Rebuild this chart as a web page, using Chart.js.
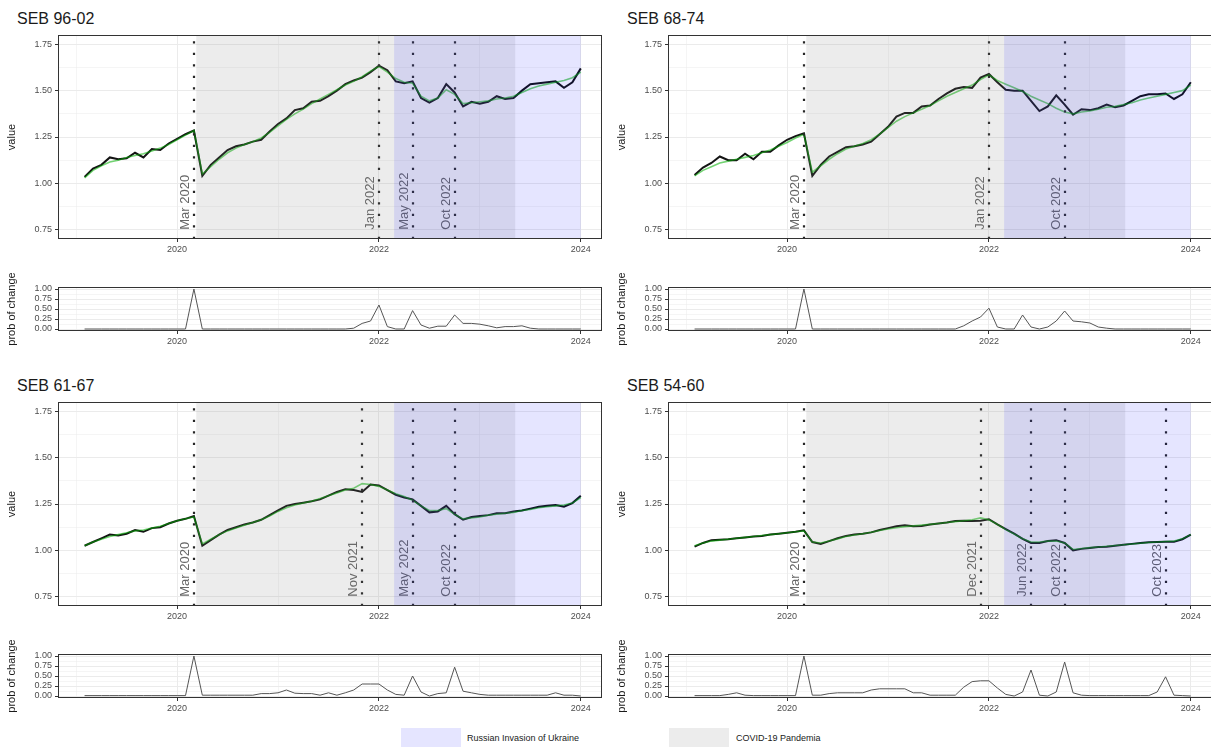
<!DOCTYPE html>
<html>
<head>
<meta charset="utf-8">
<title>SEB change points</title>
<script src="https://cdn.jsdelivr.net/npm/chart.js@4.4.1/dist/chart.umd.min.js"></script>
<style>
  html, body { margin: 0; padding: 0; background: #fff; }
  #page { position: relative; width: 1211px; height: 747px; overflow: hidden; font-family: "Liberation Sans", Arial, sans-serif; }
  #page canvas { position: absolute; }
  .title { position: absolute; font-size: 16px; color: #1a1a1a; line-height: 1; white-space: nowrap; }
  .key { position: absolute; width: 60px; height: 22px; }
  .keytext { position: absolute; font-size: 9px; color: #1a1a1a; line-height: 1; white-space: nowrap; }
</style>
</head>
<body>
<div id="page">
  <div class="title" style="left:17px; top:11px;">SEB 96-02</div>
  <div class="title" style="left:627px; top:11px;">SEB 68-74</div>
  <div class="title" style="left:17px; top:378px;">SEB 61-67</div>
  <div class="title" style="left:627px; top:378px;">SEB 54-60</div>

  <canvas id="main1" width="612" height="235" style="left:0px; top:25px;"></canvas>
  <canvas id="prob1" width="612" height="90" style="left:0px; top:262px;"></canvas>
  <canvas id="main2" width="612" height="235" style="left:610px; top:25px;"></canvas>
  <canvas id="prob2" width="612" height="90" style="left:610px; top:262px;"></canvas>
  <canvas id="main3" width="612" height="235" style="left:0px; top:392px;"></canvas>
  <canvas id="prob3" width="612" height="90" style="left:0px; top:629px;"></canvas>
  <canvas id="main4" width="612" height="235" style="left:610px; top:392px;"></canvas>
  <canvas id="prob4" width="612" height="90" style="left:610px; top:629px;"></canvas>

  <div class="key" style="left:401px; top:728px; background:rgba(0,0,255,0.1);"></div>
  <div class="keytext" style="left:467px; top:734px;">Russian Invasion of Ukraine</div>
  <div class="key" style="left:669px; top:728px; background:rgba(128,128,128,0.15);"></div>
  <div class="keytext" style="left:736px; top:734px;">COVID-19 Pandemia</div>
</div>

<script>
// monthly observations, Feb 2019 .. Jan 2024
var months = [
  '2019-02','2019-03','2019-04','2019-05','2019-06','2019-07','2019-08','2019-09','2019-10','2019-11','2019-12',
  '2020-01','2020-02','2020-03','2020-04','2020-05','2020-06','2020-07','2020-08','2020-09','2020-10','2020-11','2020-12',
  '2021-01','2021-02','2021-03','2021-04','2021-05','2021-06','2021-07','2021-08','2021-09','2021-10','2021-11','2021-12',
  '2022-01','2022-02','2022-03','2022-04','2022-05','2022-06','2022-07','2022-08','2022-09','2022-10','2022-11','2022-12',
  '2023-01','2023-02','2023-03','2023-04','2023-05','2023-06','2023-07','2023-08','2023-09','2023-10','2023-11','2023-12',
  '2024-01'
];

// SEB 96-02
var value9602 = [1.035,1.08,1.10,1.14,1.13,1.135,1.165,1.14,1.185,1.18,1.215,1.24,1.265,1.285,
  1.04,1.10,1.14,1.18,1.20,1.21,1.225,1.235,1.28,1.32,1.35,1.395,1.405,1.44,1.445,1.47,1.50,1.535,1.555,1.57,1.60,1.635,
  1.61,1.55,1.54,1.55,1.46,1.435,1.46,1.535,1.49,
  1.415,1.44,1.43,1.44,1.47,1.455,1.46,1.50,1.535,1.54,1.545,1.55,1.515,1.545,1.62];
var fit9602 = [1.03,1.07,1.095,1.115,1.125,1.14,1.15,1.16,1.175,1.19,1.21,1.235,1.26,1.285,
  1.05,1.09,1.13,1.165,1.19,1.21,1.225,1.245,1.275,1.31,1.345,1.375,1.40,1.43,1.455,1.48,1.505,1.53,1.55,1.575,1.605,1.63,
  1.60,1.565,1.545,1.54,1.47,1.445,1.46,1.505,1.48,
  1.43,1.435,1.44,1.445,1.455,1.46,1.47,1.49,1.51,1.525,1.535,1.545,1.555,1.57,1.60];
var prob9602 = [0,0,0,0,0,0,0,0,0,0,0,0,0,1.0,
  0,0,0,0,0,0,0,0,0,0,0,0,0,0,0,0,0,0,
  0.02,0.14,0.2,0.6,0.06,0,0,0.46,0.1,0.02,0.07,0.07,0.35,0.14,0.14,0.12,0.08,0.03,0.06,0.06,0.08,0.02,
  0,0,0,0,0,0];
var changes9602 = ['Mar 2020', 'Jan 2022', 'May 2022', 'Oct 2022'];

// SEB 68-74
var value6874 = [1.045,1.085,1.11,1.145,1.125,1.125,1.16,1.13,1.17,1.17,1.205,1.235,1.255,1.27,
  1.04,1.10,1.145,1.17,1.195,1.20,1.21,1.225,1.265,1.305,1.36,1.38,1.38,1.415,1.42,1.455,1.485,1.51,1.52,1.515,1.57,1.59,
  1.545,1.505,1.50,1.50,1.445,1.39,1.415,1.475,1.425,
  1.37,1.40,1.395,1.405,1.425,1.41,1.42,1.445,1.47,1.48,1.48,1.485,1.455,1.48,1.545];
var fit6874 = [1.04,1.07,1.09,1.11,1.12,1.13,1.14,1.15,1.165,1.18,1.20,1.22,1.245,1.265,
  1.06,1.095,1.13,1.16,1.185,1.20,1.215,1.235,1.265,1.30,1.335,1.36,1.38,1.40,1.42,1.445,1.47,1.49,1.51,1.53,1.56,1.585,
  1.555,1.535,1.515,1.495,1.47,1.45,1.43,1.405,1.385,
  1.375,1.385,1.39,1.40,1.41,1.415,1.425,1.435,1.45,1.46,1.47,1.48,1.49,1.50,1.53];
var prob6874 = [0,0,0,0,0,0,0,0,0,0,0,0,0,1.0,
  0,0,0,0,0,0,0,0,0,0,0,0,0,0,0,0,0,0,
  0.08,0.2,0.3,0.52,0.05,0,0,0.35,0.05,0,0.05,0.2,0.45,0.2,0.18,0.15,0.05,0.02,
  0,0,0,0,0,0,0,0,0,0];
var changes6874 = ['Mar 2020', 'Jan 2022', 'Oct 2022'];

// SEB 61-67
var value6167 = [1.025,1.045,1.065,1.085,1.08,1.09,1.11,1.10,1.12,1.125,1.145,1.16,1.17,1.185,
  1.025,1.055,1.085,1.11,1.125,1.14,1.15,1.165,1.19,1.215,1.24,1.25,1.257,1.265,1.275,1.295,1.315,1.33,1.325,1.315,1.355,1.35,
  1.325,1.30,1.285,1.275,1.24,1.205,1.21,1.24,1.195,
  1.165,1.18,1.185,1.19,1.20,1.20,1.21,1.215,1.225,1.235,1.24,1.245,1.235,1.255,1.295];
var fit6167 = [1.025,1.045,1.06,1.075,1.085,1.095,1.105,1.11,1.12,1.13,1.145,1.16,1.17,1.18,
  1.035,1.06,1.085,1.105,1.12,1.135,1.15,1.165,1.185,1.21,1.23,1.245,1.255,1.265,1.28,1.295,1.31,1.325,1.335,1.36,1.355,1.345,
  1.325,1.305,1.29,1.27,1.24,1.215,1.215,1.225,1.195,
  1.17,1.175,1.18,1.19,1.195,1.20,1.205,1.215,1.22,1.23,1.235,1.24,1.245,1.255,1.285];
var prob6167 = [0.01,0.01,0.01,0.01,0.01,0.01,0.01,0.01,0.01,0.01,0.01,0.01,0.01,1.0,
  0.02,0.02,0.02,0.02,0.02,0.02,0.02,
  0.06,0.06,0.08,0.15,0.07,0.06,0.06,0.02,0.08,0.02,0.08,0.15,0.3,0.3,0.3,0.15,0.04,0.02,0.5,0.1,0,0.06,0.08,0.72,0.12,0.08,0.04,
  0.02,0.02,0.02,0.02,0.02,0.02,0.02,0.02,
  0.08,0.02,0.02,0];
var changes6167 = ['Mar 2020', 'Nov 2021', 'May 2022', 'Oct 2022'];

// SEB 54-60
var value5460 = [1.02,1.04,1.055,1.057,1.06,1.065,1.07,1.075,1.078,1.085,1.09,1.095,1.10,1.108,
  1.045,1.035,1.05,1.065,1.078,1.085,1.09,1.097,1.11,1.12,1.13,1.135,1.13,1.132,1.14,1.145,1.15,1.158,1.16,1.158,1.16,1.168,
  1.14,1.115,1.09,1.062,1.04,1.04,1.05,1.055,1.04,
  1.00,1.008,1.013,1.018,1.02,1.025,1.03,1.035,1.04,1.044,1.045,1.046,1.046,1.06,1.085];
var fit5460 = [1.025,1.04,1.05,1.055,1.06,1.065,1.07,1.075,1.08,1.085,1.09,1.095,1.10,1.105,
  1.045,1.04,1.05,1.062,1.075,1.083,1.09,1.098,1.107,1.115,1.122,1.128,1.132,1.136,1.14,1.145,1.15,1.155,1.16,1.165,1.175,1.165,
  1.14,1.112,1.088,1.063,1.045,1.045,1.05,1.05,1.04,
  1.005,1.01,1.015,1.018,1.022,1.026,1.03,1.034,1.038,1.042,1.045,1.048,1.05,1.062,1.085];
var prob5460 = [0.01,0.01,0.01,0.01,0.04,0.08,0.02,0.01,0.01,0.01,0.01,0.01,0.01,1.0,
  0.02,0.02,0.06,0.08,0.08,0.08,0.08,0.15,0.18,0.18,0.18,0.18,0.08,0.08,0.02,0.02,0.02,0.02,
  0.22,0.36,0.38,0.38,0.2,0.04,0,0.1,0.65,0.02,0,0.1,0.85,0.08,0.02,
  0.01,0.01,0.01,0.01,0.01,0.01,0.01,0.01,
  0.1,0.48,0.02,0.01,0];
var changes5460 = ['Mar 2020', 'Dec 2021', 'Jun 2022', 'Oct 2022', 'Oct 2023'];

// shaded periods (decimal years)
var covidPeriod = [2020.19, 2023.35];
var invasionPeriod = [2022.15, 2024.0];

// axes
var xRange = [2018.82, 2024.21];
var xTicks = [2019, 2020, 2021, 2022, 2023, 2024];
var xTickLabels = ['', '2020', '', '2022', '', '2024'];
var valueRange = [0.70, 1.80];
var valueTicks = [0.75, 0.875, 1.0, 1.125, 1.25, 1.375, 1.5, 1.625, 1.75];
var valueTickLabels = ['0.75', '', '1.00', '', '1.25', '', '1.50', '', '1.75'];
var probRange = [-0.05, 1.05];
var probTicks = [0, 0.125, 0.25, 0.375, 0.5, 0.625, 0.75, 0.875, 1.0];
var probTickLabels = ['0.00', '', '0.25', '', '0.50', '', '0.75', '', '1.00'];

var monthNames = ['Jan','Feb','Mar','Apr','May','Jun','Jul','Aug','Sep','Oct','Nov','Dec'];
var FONT = '"Liberation Sans", Arial, sans-serif';

Chart.defaults.font.family = FONT;
Chart.defaults.color = '#4d4d4d';

function monthToYear(m) {
  var parts = m.split('-');
  return parseInt(parts[0], 10) + (parseInt(parts[1], 10) - 1) / 12;
}

function labelToYear(label) {
  var parts = label.split(' ');
  return parseInt(parts[1], 10) + monthNames.indexOf(parts[0]) / 12;
}

function toPoints(values) {
  var pts = [];
  for (var i = 0; i < months.length; i++) {
    pts.push({ x: monthToYear(months[i]), y: values[i] });
  }
  return pts;
}

function isMajor(list, labels, value) {
  var idx = list.indexOf(value);
  return idx >= 0 && labels[idx] !== '';
}

function xScale() {
  return {
    type: 'linear',
    min: xRange[0],
    max: xRange[1],
    afterBuildTicks: function(scale) {
      scale.ticks = xTicks.map(function(v) { return { value: v }; });
    },
    afterFit: function(scale) { scale.height = 21; },
    ticks: {
      autoSkip: false,
      maxRotation: 0,
      padding: 2,
      font: { size: 9 },
      color: '#4d4d4d',
      callback: function(value, index) { return xTickLabels[index]; }
    },
    grid: {
      color: '#ebebeb',
      lineWidth: function(c) { return isMajor(xTicks, xTickLabels, c.tick ? c.tick.value : null) ? 1 : 0.5; },
      tickLength: 3,
      tickWidth: 1,
      tickColor: function(c) { return isMajor(xTicks, xTickLabels, c.tick ? c.tick.value : null) ? '#333333' : 'rgba(0,0,0,0)'; }
    },
    border: { display: false }
  };
}

function yScale(range, ticksList, labels, title) {
  return {
    type: 'linear',
    min: range[0],
    max: range[1],
    afterBuildTicks: function(scale) {
      scale.ticks = ticksList.map(function(v) { return { value: v }; });
    },
    afterFit: function(scale) { scale.width = 58; },
    ticks: {
      autoSkip: false,
      padding: 3,
      font: { size: 9 },
      color: '#4d4d4d',
      callback: function(value, index) { return labels[index]; }
    },
    grid: {
      color: '#ebebeb',
      lineWidth: function(c) { return isMajor(ticksList, labels, c.tick ? c.tick.value : null) ? 1 : 0.5; },
      tickLength: 3,
      tickWidth: 1,
      tickColor: function(c) { return isMajor(ticksList, labels, c.tick ? c.tick.value : null) ? '#333333' : 'rgba(0,0,0,0)'; }
    },
    border: { display: false },
    title: {
      display: true,
      text: title,
      color: '#1a1a1a',
      font: { size: 11 },
      padding: { top: 5, bottom: 0 }
    }
  };
}

var panelBorder = {
  id: 'panelBorder',
  afterDraw: function(chart) {
    var a = chart.chartArea, ctx = chart.ctx;
    ctx.save();
    ctx.strokeStyle = '#333333';
    ctx.lineWidth = 1;
    ctx.strokeRect(Math.round(a.left) + 0.5, Math.round(a.top) + 0.5, Math.round(a.width) - 1, Math.round(a.height) - 1);
    ctx.restore();
  }
};

// change point lines, their labels, then the translucent event periods on top
var changeMarks = {
  id: 'changeMarks',
  afterDatasetsDraw: function(chart, args, opts) {
    var ctx = chart.ctx, a = chart.chartArea;
    var xs = chart.scales.x, ys = chart.scales.y;
    ctx.save();
    ctx.beginPath();
    ctx.rect(a.left, a.top, a.width, a.height);
    ctx.clip();

    ctx.strokeStyle = '#262626';
    ctx.lineWidth = 2.2;
    ctx.setLineDash([2.2, 9.3]);
    opts.changes.forEach(function(lbl) {
      var px = Math.round(xs.getPixelForValue(labelToYear(lbl)));
      ctx.beginPath();
      ctx.moveTo(px, a.bottom);
      ctx.lineTo(px, a.top);
      ctx.stroke();
    });
    ctx.setLineDash([]);

    ctx.fillStyle = '#666666';
    ctx.font = '13px ' + FONT;
    ctx.textAlign = 'left';
    ctx.textBaseline = 'alphabetic';
    opts.changes.forEach(function(lbl) {
      var px = xs.getPixelForValue(labelToYear(lbl));
      var py = ys.getPixelForValue(valueTicks[0]);
      ctx.save();
      ctx.translate(px - 5, py);
      ctx.rotate(-Math.PI / 2);
      ctx.fillText(lbl, 0, 0);
      ctx.restore();
    });

    var c0 = xs.getPixelForValue(covidPeriod[0]), c1 = xs.getPixelForValue(covidPeriod[1]);
    ctx.fillStyle = 'rgba(128,128,128,0.15)';
    ctx.fillRect(c0, a.top, c1 - c0, a.height);
    var r0 = xs.getPixelForValue(invasionPeriod[0]), r1 = xs.getPixelForValue(invasionPeriod[1]);
    ctx.fillStyle = 'rgba(0,0,255,0.1)';
    ctx.fillRect(r0, a.top, r1 - r0, a.height);
    ctx.restore();
  }
};

function drawMain(id, values, fitted, changes) {
  new Chart(document.getElementById(id), {
    type: 'line',
    data: {
      datasets: [{
        data: toPoints(fitted),
        borderColor: 'rgba(0,175,0,0.55)',
        borderWidth: 1.6,
        pointRadius: 0,
        tension: 0
      }, {
        data: toPoints(values),
        borderColor: '#141414',
        borderWidth: 2,
        pointRadius: 0,
        tension: 0
      }]
    },
    options: {
      responsive: false,
      animation: false,
      events: [],
      layout: { padding: { top: 10, right: 10, left: 0, bottom: 0 } },
      scales: {
        x: xScale(),
        y: yScale(valueRange, valueTicks, valueTickLabels, 'value')
      },
      plugins: {
        legend: { display: false },
        tooltip: { enabled: false },
        changeMarks: { changes: changes }
      }
    },
    plugins: [changeMarks, panelBorder]
  });
}

function drawProb(id, probs) {
  new Chart(document.getElementById(id), {
    type: 'line',
    data: {
      datasets: [{
        data: toPoints(probs),
        borderColor: '#555555',
        borderWidth: 1,
        pointRadius: 0,
        tension: 0
      }]
    },
    options: {
      responsive: false,
      animation: false,
      events: [],
      layout: { padding: { top: 25, right: 10, left: 0, bottom: 0 } },
      scales: {
        x: xScale(),
        y: yScale(probRange, probTicks, probTickLabels, 'prob of change')
      },
      plugins: {
        legend: { display: false },
        tooltip: { enabled: false }
      }
    },
    plugins: [panelBorder]
  });
}

drawMain('main1', value9602, fit9602, changes9602);
drawProb('prob1', prob9602);
drawMain('main2', value6874, fit6874, changes6874);
drawProb('prob2', prob6874);
drawMain('main3', value6167, fit6167, changes6167);
drawProb('prob3', prob6167);
drawMain('main4', value5460, fit5460, changes5460);
drawProb('prob4', prob5460);
</script>
</body>
</html>
